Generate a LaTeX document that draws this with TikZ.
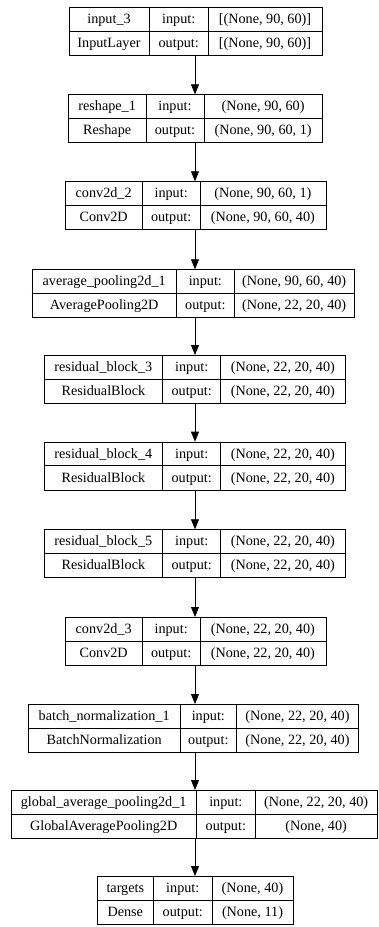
\documentclass[tikz,border=0pt]{standalone}
\usepackage{fontspec}
\setmainfont{Liberation Serif}
\usetikzlibrary{arrows.meta}
\begin{document}
\begin{tikzpicture}[x=1pt,y=-1pt,
  cellbox/.style={draw=black, line width=0.8pt, rectangle, inner sep=0pt, anchor=north west},
  rule/.style={draw=black, line width=0.8pt},
  celltxt/.style={anchor=base, inner sep=0pt, font=\fontsize{14.2}{16}\selectfont},
  link/.style={-{Triangle[length=10pt,width=8pt]}, line width=0.8pt}]
\useasboundingbox (0,0) rectangle (378,927);
\coordinate (ax) at (195,0);
% index / top / left / divider 1 / divider 2 / right / layer name / class / input shape / output shape
\foreach \k/\t/\l/\a/\b/\r/\na/\cl/\vi/\vo in {
  1/7/69/149/208.5/321.5/input\_3/InputLayer/{[(None, 90, 60)]}/{[(None, 90, 60)]},
  2/94.3/68.3/146/204/322.3/reshape\_1/Reshape/{(None, 90, 60)}/{(None, 90, 60, 1)},
  3/181.3/65/142.3/200/325.7/conv2d\_2/Conv2D/{(None, 90, 60, 1)}/{(None, 90, 60, 40)},
  4/269.3/31.7/176.7/234/354.3/average\_pooling2d\_1/AveragePooling2D/{(None, 90, 60, 40)}/{(None, 22, 20, 40)},
  5/355/44/162.7/220.7/345/residual\_block\_3/ResidualBlock/{(None, 22, 20, 40)}/{(None, 22, 20, 40)},
  6/441.7/44/162.7/220.7/345/residual\_block\_4/ResidualBlock/{(None, 22, 20, 40)}/{(None, 22, 20, 40)},
  7/529.3/44/162.7/220.7/345/residual\_block\_5/ResidualBlock/{(None, 22, 20, 40)}/{(None, 22, 20, 40)},
  8/617/65/142.3/200/325.7/conv2d\_3/Conv2D/{(None, 22, 20, 40)}/{(None, 22, 20, 40)},
  9/704/28.3/180/236.7/358.3/batch\_normalization\_1/BatchNormalization/{(None, 22, 20, 40)}/{(None, 22, 20, 40)},
  10/790/10.7/196.7/255/377.3/global\_average\_pooling2d\_1/GlobalAveragePooling2D/{(None, 22, 20, 40)}/{(None, 40)},
  11/876/97.3/153.3/212.3/292.7/targets/Dense/{(None, 40)}/{(None, 11)}}{
  \pgfmathsetmacro\w{\r-\l}
  \pgfmathsetmacro\m{\t+24}
  \pgfmathsetmacro\bt{\t+48}
  \node[cellbox, minimum width=\w pt, minimum height=48pt] (L\k) at (\l,\t) {};
  \draw[rule] (\l,\m) -- (\r,\m);
  \draw[rule] (\a,\t) -- (\a,\bt);
  \draw[rule] (\b,\t) -- (\b,\bt);
  \node[celltxt] at ({(\l+\a)/2},{\t+16.4}) {\na};
  \node[celltxt] at ({(\a+\b)/2},{\t+16.4}) {input:};
  \node[celltxt] at ({(\b+\r)/2},{\t+16.4}) {\vi};
  \node[celltxt] at ({(\l+\a)/2},{\t+40.4}) {\cl};
  \node[celltxt] at ({(\a+\b)/2},{\t+40.4}) {output:};
  \node[celltxt] at ({(\b+\r)/2},{\t+40.4}) {\vo};
}
% connectors between consecutive layers
\foreach \i [evaluate=\i as \j using int(\i+1)] in {1,...,10}
  \draw[link] (L\i.south -| ax) -- (L\j.north -| ax);
\end{tikzpicture}
\end{document}
